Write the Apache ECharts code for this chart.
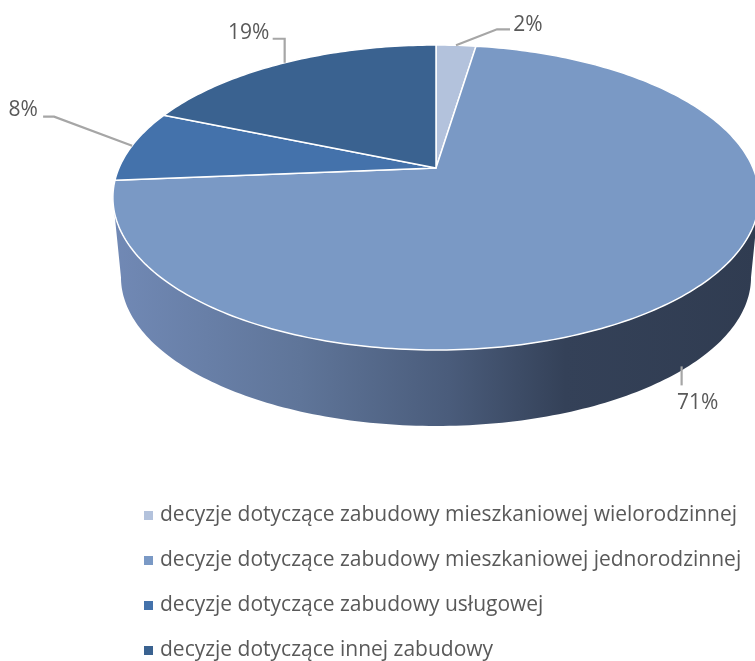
<!DOCTYPE html>
<html><head><meta charset="utf-8">
<style>html,body{margin:0;padding:0;background:#fff}#c{width:755px;height:661px}</style>
<script src="https://cdn.jsdelivr.net/npm/echarts@6/dist/echarts.min.js"></script>
</head><body><div id="c"></div>
<script>
var categories = [
  'decyzje dotyczące zabudowy mieszkaniowej wielorodzinnej',
  'decyzje dotyczące zabudowy mieszkaniowej jednorodzinnej',
  'decyzje dotyczące zabudowy usługowej',
  'decyzje dotyczące innej zabudowy'
];
var values = [2.4, 71.3, 7.6, 18.7];
var colors = ['#b3c2dc', '#7a99c5', '#4472ab', '#3a6290'];

// view geometry of the tilted disc
var CX = 436, CY = 168, RX = 317, RY = 146.8, K = 0.1935;
var BASE_DY = 80.5, BASE_SCALE = 0.975;
// leader knees and label centres, as offsets from each slice's anchor
var leaderOffsets = [[41, -16], [0, 0], [-78, -29], [0, -24]];
var leaderEnds = [[54, -16], [0, 0], [-89, -29], [-12, -24]];
var labelOffsets = [[72, -20], [16, 31], [-109, -36], [-36, -30]];
var wallLeader = [0, 15];
var wallLabelOffset = [16, 33];

var total = values.reduce(function (a, b) { return a + b; }, 0);

function project(frac, scale, dy) {
  var a = frac * 2 * Math.PI, x = Math.sin(a), y = -Math.cos(a), w = 1 - K * y;
  return [CX + scale * RX * x / w, CY + dy + scale * RY * y / w];
}
function arc(f0, f1, scale, dy) {
  var n = Math.max(2, Math.ceil(Math.abs(f1 - f0) * 360)), pts = [];
  for (var i = 0; i <= n; i++) pts.push(project(f0 + (f1 - f0) * i / n, scale, dy));
  return pts;
}
var startOf = function (i) {
  return values.slice(0, i).reduce(function (a, b) { return a + b; }, 0) / total;
};

function renderSlice(index) {
  return function () {
    var f0 = startOf(index), f1 = f0 + values[index] / total, mid = (f0 + f1) / 2;
    var kids = [];
    var isFront = mid > 0.25 && mid < 0.5;
    if (isFront) {
      // visible outer wall: between the two silhouette tangents of the disc
      var tl = Math.acos(-K) / (2 * Math.PI), tr = 1 - tl;
      var pts = arc(tl, tr, 1, 0).concat(arc(tr, tl, BASE_SCALE, BASE_DY));
      kids.push({
        type: 'polygon', shape: { points: pts },
        style: {
          fill: {
            type: 'linear', x: 0, y: 0, x2: 1, y2: 0,
            colorStops: [
              { offset: 0, color: '#7189b5' },
              { offset: 0.29, color: '#5f7599' },
              { offset: 0.52, color: '#4a5c7b' },
              { offset: 0.70, color: '#344158' },
              { offset: 1, color: '#303c51' }
            ]
          }
        }
      });
    }
    var face = [[CX, CY]].concat(arc(f0, f1, 1, 0));
    kids.push({
      type: 'polygon', shape: { points: face },
      style: { fill: colors[index], stroke: '#fff', lineWidth: 1.5, lineJoin: 'round' }
    });
    // leader + label
    var a, knee, end, label;
    if (isFront) {
      a = project(mid, BASE_SCALE, BASE_DY);
      end = [a[0] + wallLeader[0], a[1] + wallLeader[1]];
      kids.push({ type: 'polyline', shape: { points: [[a[0], a[1] - 4], end] },
        style: { stroke: '#a6a6a6', lineWidth: 2.2, fill: null } });
      label = [a[0] + wallLabelOffset[0], a[1] + wallLabelOffset[1]];
    } else {
      a = project(mid, 1, 0);
      knee = [a[0] + leaderOffsets[index][0], a[1] + leaderOffsets[index][1]];
      end = [a[0] + leaderEnds[index][0], a[1] + leaderEnds[index][1]];
      kids.push({ type: 'polyline', shape: { points: [a, knee, end] },
        style: { stroke: '#a6a6a6', lineWidth: 2.2, fill: null } });
      label = [a[0] + labelOffsets[index][0], a[1] + labelOffsets[index][1]];
    }
    kids.push({
      type: 'text', x: label[0], y: label[1],
      style: {
        text: Math.round(values[index] / total * 100) + '%',
        fill: '#595959', font: '21px "Open Sans", sans-serif',
        align: 'center', verticalAlign: 'middle'
      }
    });
    return { type: 'group', children: kids };
  };
}

var chart = echarts.init(document.getElementById('c'), null, { renderer: 'canvas' });
chart.setOption({
  animation: false,
  backgroundColor: '#fff',
  legend: {
    orient: 'vertical', left: 144, top: 505, height: 400, padding: 0,
    itemWidth: 9, itemHeight: 9, itemGap: 24,
    icon: 'rect', selectedMode: false,
    data: categories,
    textStyle: { color: '#595959', fontFamily: '"Open Sans", sans-serif', fontSize: 21, lineHeight: 20, padding: [0, 0, 0, 2] }
  },
  series: categories.map(function (name, i) {
    return {
      type: 'custom', name: name, coordinateSystem: 'none',
      silent: true, clip: false,
      itemStyle: { color: colors[i] },
      data: [values[i]],
      renderItem: renderSlice(i)
    };
  })
});
</script></body></html>
